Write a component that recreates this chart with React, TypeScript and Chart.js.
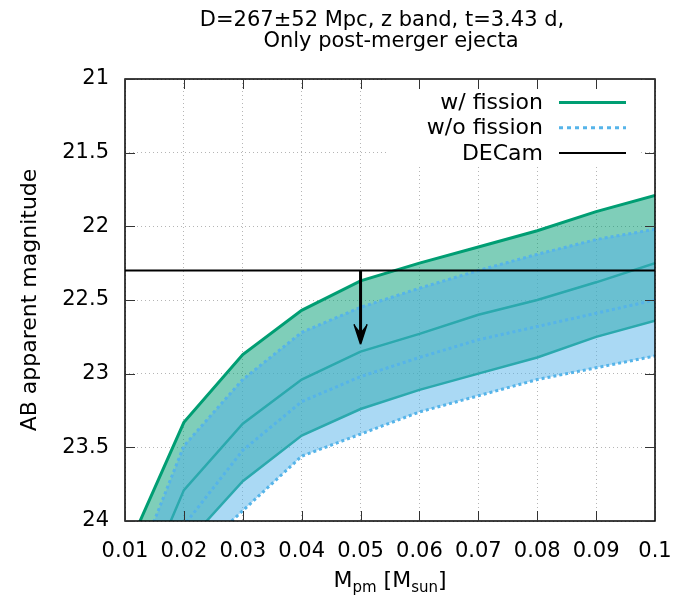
import { useEffect, useRef } from 'react';
import { Chart, registerables } from 'chart.js';

Chart.register(...registerables);

// ---- data ----
const massValues = [0.01, 0.02, 0.03, 0.04, 0.05, 0.06, 0.07, 0.08, 0.09, 0.1];
const withFissionUpper = [24.23, 23.33, 22.87, 22.57, 22.37, 22.25, 22.14, 22.03, 21.9, 21.79];
const withFissionMedian = [24.73, 23.79, 23.34, 23.04, 22.85, 22.73, 22.6, 22.5, 22.38, 22.25];
const withFissionLower = [25.0, 24.17, 23.73, 23.42, 23.24, 23.11, 23.0, 22.89, 22.75, 22.64];
const withoutFissionUpper = [24.5, 23.49, 23.04, 22.72, 22.55, 22.42, 22.3, 22.19, 22.09, 22.02];
const withoutFissionMedian = [24.8, 24.03, 23.52, 23.19, 23.02, 22.89, 22.77, 22.68, 22.59, 22.5];
const withoutFissionLower = [25.2, 24.3, 23.93, 23.56, 23.41, 23.26, 23.15, 23.04, 22.96, 22.88];

const decamMass = [0.01, 0.1];
const decamLimit = [22.3, 22.3];
const arrowMass = [0.05];
const arrowMag = [22.3, 22.8];

const xTickValues = [0.01, 0.02, 0.03, 0.04, 0.05, 0.06, 0.07, 0.08, 0.09, 0.1];
const xTickLabels = ['0.01', '0.02', '0.03', '0.04', '0.05', '0.06', '0.07', '0.08', '0.09', '0.1'];
const yTickValues = [21, 21.5, 22, 22.5, 23, 23.5, 24];
const yTickLabels = ['21', '21.5', '22', '22.5', '23', '23.5', '24'];

const legendLabels = ['w/ fission', 'w/o fission', 'DECam'];
const titleLines = ['D=267±52 Mpc, z band, t=3.43 d,', 'Only post-merger ejecta'];
const yAxisTitle = 'AB apparent magnitude';
const xAxisTitleParts: [string, boolean][] = [
  ['M', false],
  ['pm', true],
  [' [M', false],
  ['sun', true],
  [']', false],
];

// ---- styles ----
const FONT = "'DejaVu Sans', sans-serif";
const GREEN = '#009e73';
const BLUE = '#56b4e9';
const GREEN_FILL = 'rgba(0,158,115,0.5)';
const BLUE_FILL = 'rgba(86,180,233,0.5)';
const DOT = [3, 3];

const pts = (ys: number[]) => massValues.map((x, i) => ({ x, y: ys[i] }));

const decorPlugin = {
  id: 'decor',
  beforeDatasetsDraw(chart: any) {
    const { ctx, chartArea: a } = chart;
    ctx.save();
    ctx.fillStyle = '#ffffff';
    ctx.fillRect(a.left + 262, a.top, a.right - 14 - (a.left + 262), 88);
    ctx.restore();
  },
  afterDatasetsDraw(chart: any) {
    const { ctx, chartArea: a } = chart;
    const xs = chart.scales.x;
    const ys = chart.scales.y;
    ctx.save();
    // arrow
    const ax = xs.getPixelForValue(arrowMass[0]);
    const y0 = ys.getPixelForValue(arrowMag[0]);
    const y1 = ys.getPixelForValue(arrowMag[1]);
    ctx.strokeStyle = '#000';
    ctx.fillStyle = '#000';
    ctx.lineWidth = 3;
    ctx.beginPath();
    ctx.moveTo(ax, y0);
    ctx.lineTo(ax, y1 - 10);
    ctx.stroke();
    ctx.beginPath();
    ctx.moveTo(ax, y1);
    ctx.lineTo(ax - 6.5, y1 - 20);
    ctx.lineTo(ax, y1 - 12);
    ctx.lineTo(ax + 6.5, y1 - 20);
    ctx.closePath();
    ctx.fill();
    ctx.lineWidth = 1.5;
    ctx.beginPath();
    ctx.moveTo(ax, y1);
    ctx.lineTo(ax - 6.5, y1 - 20);
    ctx.moveTo(ax, y1);
    ctx.lineTo(ax + 6.5, y1 - 20);
    ctx.stroke();

    // frame
    ctx.lineWidth = 1.5;
    ctx.strokeStyle = '#000';
    ctx.strokeRect(a.left, a.top, a.right - a.left, a.bottom - a.top);

    // inward ticks on all sides
    ctx.lineWidth = 1;
    ctx.strokeStyle = '#333';
    ctx.beginPath();
    xTickValues.forEach((v) => {
      const p = Math.round(xs.getPixelForValue(v)) + 0.5;
      ctx.moveTo(p, a.bottom);
      ctx.lineTo(p, a.bottom - 10);
      ctx.moveTo(p, a.top);
      ctx.lineTo(p, a.top + 10);
    });
    yTickValues.forEach((v) => {
      const p = Math.round(ys.getPixelForValue(v)) + 0.5;
      ctx.moveTo(a.left, p);
      ctx.lineTo(a.left + 10, p);
      ctx.moveTo(a.right, p);
      ctx.lineTo(a.right - 10, p);
    });
    ctx.stroke();

    // legend
    ctx.font = `22px ${FONT}`;
    ctx.textAlign = 'right';
    ctx.textBaseline = 'middle';
    ctx.fillStyle = '#000';
    legendLabels.forEach((label, i) => {
      const ly = a.top + 23.5 + i * 25.2;
      ctx.fillText(label, a.right - 112, ly + 1);
      ctx.beginPath();
      if (i === 0) {
        ctx.strokeStyle = GREEN;
        ctx.lineWidth = 3;
        ctx.setLineDash([]);
      } else if (i === 1) {
        ctx.strokeStyle = BLUE;
        ctx.lineWidth = 3;
        ctx.setLineDash([4, 4]);
      } else {
        ctx.strokeStyle = '#000';
        ctx.lineWidth = 2;
        ctx.setLineDash([]);
      }
      ctx.moveTo(a.right - 96, ly);
      ctx.lineTo(a.right - 29, ly);
      ctx.stroke();
    });
    ctx.setLineDash([]);
    ctx.restore();
  },
  afterDraw(chart: any) {
    const { ctx, chartArea: a } = chart;
    const cx = (a.left + a.right) / 2;
    ctx.save();
    ctx.fillStyle = '#000';
    // title
    ctx.font = `21px ${FONT}`;
    ctx.textAlign = 'center';
    ctx.textBaseline = 'alphabetic';
    ctx.fillText(titleLines[0], cx - 8, 26);
    ctx.fillText(titleLines[1], cx + 1, 47);

    // y axis title
    ctx.save();
    ctx.translate(36, (a.top + a.bottom) / 2);
    ctx.rotate(-Math.PI / 2);
    ctx.font = `22px ${FONT}`;
    ctx.textAlign = 'center';
    ctx.textBaseline = 'alphabetic';
    ctx.fillText(yAxisTitle, 0, 0);
    ctx.restore();

    // x axis title with subscripts
    const big = `22px ${FONT}`;
    const small = `15px ${FONT}`;
    let total = 0;
    xAxisTitleParts.forEach(([t, sub]) => {
      ctx.font = sub ? small : big;
      total += ctx.measureText(t).width;
    });
    let x = cx - total / 2;
    const base = 587;
    ctx.textAlign = 'left';
    xAxisTitleParts.forEach(([t, sub]) => {
      ctx.font = sub ? small : big;
      ctx.fillText(t, x, sub ? base + 5 : base);
      x += ctx.measureText(t).width;
    });
    ctx.restore();
  },
};

export default function App() {
  const ref = useRef<HTMLCanvasElement | null>(null);

  useEffect(() => {
    document.body.style.margin = '0';
    const canvas = ref.current;
    if (!canvas) return;

    const base = { pointRadius: 0, tension: 0, fill: false as any };
    const chart = new Chart(canvas, {
      type: 'line',
      data: {
        datasets: [
          // 0
          {
            ...base,
            label: 'DECam',
            data: decamMass.map((x, i) => ({ x, y: decamLimit[i] })),
            borderColor: '#000',
            borderWidth: 2,
            order: 0,
          },
          // 1
          {
            ...base,
            label: 'w/o fission median',
            data: pts(withoutFissionMedian),
            borderColor: BLUE,
            borderWidth: 3,
            borderDash: DOT,
            order: 1,
          },
          // 2
          {
            ...base,
            label: 'w/o fission lower',
            data: pts(withoutFissionLower),
            borderColor: BLUE,
            borderWidth: 3,
            borderDash: DOT,
            order: 2,
          },
          // 3
          {
            ...base,
            label: 'w/o fission upper',
            data: pts(withoutFissionUpper),
            borderColor: BLUE,
            borderWidth: 3,
            borderDash: DOT,
            fill: 2,
            backgroundColor: BLUE_FILL,
            order: 3,
          },
          // 4
          {
            ...base,
            label: 'w/ fission median',
            data: pts(withFissionMedian),
            borderColor: GREEN,
            borderWidth: 2.5,
            order: 4,
          },
          // 5
          {
            ...base,
            label: 'w/ fission lower',
            data: pts(withFissionLower),
            borderColor: GREEN,
            borderWidth: 2.5,
            order: 5,
          },
          // 6
          {
            ...base,
            label: 'w/ fission upper',
            data: pts(withFissionUpper),
            borderColor: GREEN,
            borderWidth: 3,
            fill: 5,
            backgroundColor: GREEN_FILL,
            order: 6,
          },
        ],
      },
      options: {
        animation: false,
        responsive: false,
        maintainAspectRatio: false,
        layout: { padding: { top: 79, right: 44, left: 0, bottom: 0 } },
        plugins: {
          legend: { display: false },
          tooltip: { enabled: false },
          title: { display: false },
        },
        scales: {
          x: {
            type: 'linear',
            min: 0.01,
            max: 0.1,
            afterFit: (s: any) => {
              s.height = 84;
            },
            afterBuildTicks: (s: any) => {
              s.ticks = xTickValues.map((v) => ({ value: v }));
            },
            ticks: {
              autoSkip: false,
              maxRotation: 0,
              padding: 18,
              color: '#000',
              font: { family: FONT, size: 21 },
              callback: (_v: any, i: number) => xTickLabels[i],
            },
            grid: { color: '#b5b5b5', lineWidth: 1, drawTicks: false },
            border: { display: false, dash: [1, 3] },
          },
          y: {
            type: 'linear',
            min: 21,
            max: 24,
            reverse: true,
            afterFit: (s: any) => {
              s.width = 125;
            },
            afterBuildTicks: (s: any) => {
              s.ticks = yTickValues.map((v) => ({ value: v }));
            },
            ticks: {
              autoSkip: false,
              padding: 16,
              color: '#000',
              font: { family: FONT, size: 21 },
              callback: (_v: any, i: number) => yTickLabels[i],
            },
            grid: { color: '#b5b5b5', lineWidth: 1, drawTicks: false },
            border: { display: false, dash: [1, 3] },
          },
        },
      },
      plugins: [decorPlugin],
    } as any);

    return () => {
      chart.destroy();
    };
  }, []);

  return <canvas ref={ref} width={699} height={605} style={{ display: 'block' }} />;
}
